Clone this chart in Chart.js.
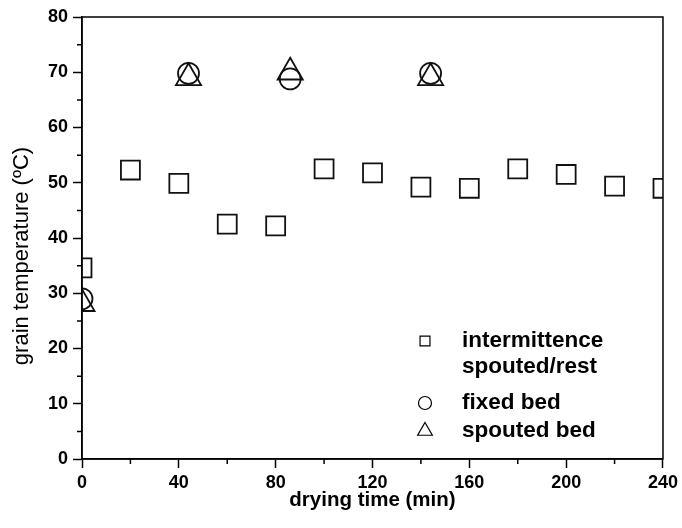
<!DOCTYPE html>
<html>
<head>
<meta charset="utf-8">
<script src="https://cdn.jsdelivr.net/npm/chart.js@4"></script>
<style>
  html, body { margin: 0; padding: 0; background: #fff; }
  #wrap { width: 682px; height: 528px; }
</style>
</head>
<body>
<div id="wrap"><canvas id="chart" width="682" height="528"></canvas></div>
<script>
/* ===============================
   DATA
================================ */
const intermitTime = [0, 20, 40, 60, 80, 100, 120, 140, 160, 180, 200, 220, 240];
const intermitTemp = [34.6, 52.3, 49.9, 42.5, 42.2, 52.5, 51.8, 49.2, 49.0, 52.5, 51.5, 49.4, 49.0];

const fixedTime = [0, 44, 86, 144];
const fixedTemp = [29.0, 69.8, 68.8, 69.8];

const spoutedTime = [0, 44, 86, 144];
const spoutedTemp = [28.1, 69.0, 70.0, 69.0];

const xTicks = [0, 40, 80, 120, 160, 200, 240];
const yTicks = [0, 10, 20, 30, 40, 50, 60, 70, 80];

const yTitle = "grain temperature (ºC)";

const toPoints = (xs, ys) => xs.map((x, i) => ({ x: x, y: ys[i] }));

/* ===============================
   PLUGINS: frame, minor ticks, y title, legend
================================ */
const framePlugin = {
  id: "frame",
  afterDatasetsDraw(chart) {
    const { ctx, chartArea: a, scales } = chart;
    ctx.save();
    ctx.strokeStyle = "#000";
    ctx.lineWidth = 1.5;
    ctx.strokeRect(a.left, a.top, a.right - a.left, a.bottom - a.top);

    // minor ticks, half way between the labelled ones
    ctx.beginPath();
    for (let i = 0; i < xTicks.length - 1; i++) {
      const px = scales.x.getPixelForValue((xTicks[i] + xTicks[i + 1]) / 2);
      ctx.moveTo(px, a.bottom);
      ctx.lineTo(px, a.bottom + 5);
    }
    for (let i = 0; i < yTicks.length - 1; i++) {
      const py = scales.y.getPixelForValue((yTicks[i] + yTicks[i + 1]) / 2);
      ctx.moveTo(a.left, py);
      ctx.lineTo(a.left - 5, py);
    }
    ctx.stroke();

    // y axis title (sits a bit below the middle in the original)
    ctx.translate(22, 256);
    ctx.rotate(-Math.PI / 2);
    ctx.font = "22px 'Liberation Sans', Arial, sans-serif";
    ctx.fillStyle = "#000";
    ctx.textAlign = "center";
    ctx.textBaseline = "middle";
    ctx.fillText(yTitle, 0, 0);
    ctx.restore();
  }
};

const legendPlugin = {
  id: "boxLegend",
  afterDraw(chart) {
    const { ctx } = chart;
    const rows = [
      { ds: 0, y: 341 },
      { ds: 1, y: 403 },
      { ds: 2, y: 431 }
    ];
    const sizes = [7, 6.5, 8.5];
    ctx.save();
    ctx.font = "bold 22.5px 'Liberation Sans', Arial, sans-serif";
    ctx.textBaseline = "middle";
    rows.forEach((r, i) => {
      const ds = chart.data.datasets[r.ds];
      ctx.fillStyle = "rgba(0,0,0,0)";
      ctx.strokeStyle = "#000";
      ctx.lineWidth = 1.2;
      Chart.helpers.drawPoint(ctx, {
        pointStyle: ds.pointStyle,
        radius: sizes[i],
        rotation: 0,
        borderWidth: 1.2
      }, 425, r.y);
      ctx.fillStyle = "#000";
      const lines = Array.isArray(ds.label) ? ds.label : [ds.label];
      lines.forEach((t, j) => ctx.fillText(t, 462, r.y + j * 26));
    });
    ctx.restore();
  }
};

/* ===============================
   CHART
================================ */
const markerCommon = {
  showLine: false,
  pointBackgroundColor: "rgba(0,0,0,0)",
  pointBorderColor: "#111",
  pointBorderWidth: 1.8,
  pointHoverRadius: 0,
  clip: 0
};

new Chart(document.getElementById("chart"), {
  type: "scatter",
  data: {
    datasets: [
      Object.assign({
        label: ["intermittence", "spouted/rest"],
        data: toPoints(intermitTime, intermitTemp),
        pointStyle: "rect",
        pointRadius: 13.4
      }, markerCommon),
      Object.assign({
        label: "fixed bed",
        data: toPoints(fixedTime, fixedTemp),
        pointStyle: "circle",
        pointRadius: 10.5
      }, markerCommon),
      Object.assign({
        label: "spouted bed",
        data: toPoints(spoutedTime, spoutedTemp),
        pointStyle: "triangle",
        pointRadius: 14.5
      }, markerCommon)
    ]
  },
  options: {
    responsive: false,
    animation: false,
    layout: { padding: { left: 0, right: 16, top: 17, bottom: 0 } },
    plugins: {
      legend: { display: false },
      tooltip: { enabled: false }
    },
    scales: {
      x: {
        type: "linear",
        min: 0,
        max: 240,
        afterBuildTicks: s => { s.ticks = xTicks.map(v => ({ value: v })); },
        afterFit: s => { s.height = 69; },
        border: { display: true, color: "#000", width: 1.5 },
        grid: { drawOnChartArea: false, drawTicks: true, tickLength: 9, tickColor: "#000", tickWidth: 1.5 },
        ticks: {
          color: "#000",
          padding: 4,
          font: { family: "'Liberation Sans', Arial, sans-serif", size: 18, weight: "bold" }
        },
        title: {
          display: true,
          text: "drying time (min)",
          color: "#000",
          padding: { top: 0, bottom: 15 },
          font: { family: "'Liberation Sans', Arial, sans-serif", size: 20.5, weight: "bold" }
        }
      },
      y: {
        type: "linear",
        min: 0,
        max: 80,
        afterBuildTicks: s => { s.ticks = yTicks.map(v => ({ value: v })); },
        afterFit: s => { s.width = 82; },
        border: { display: true, color: "#000", width: 1.5 },
        grid: { drawOnChartArea: false, drawTicks: true, tickLength: 9, tickColor: "#000", tickWidth: 1.5 },
        ticks: {
          color: "#000",
          padding: 5,
          font: { family: "'Liberation Sans', Arial, sans-serif", size: 18, weight: "bold" }
        },
        title: { display: false }
      }
    }
  },
  plugins: [framePlugin, legendPlugin]
});
</script>
</body>
</html>
